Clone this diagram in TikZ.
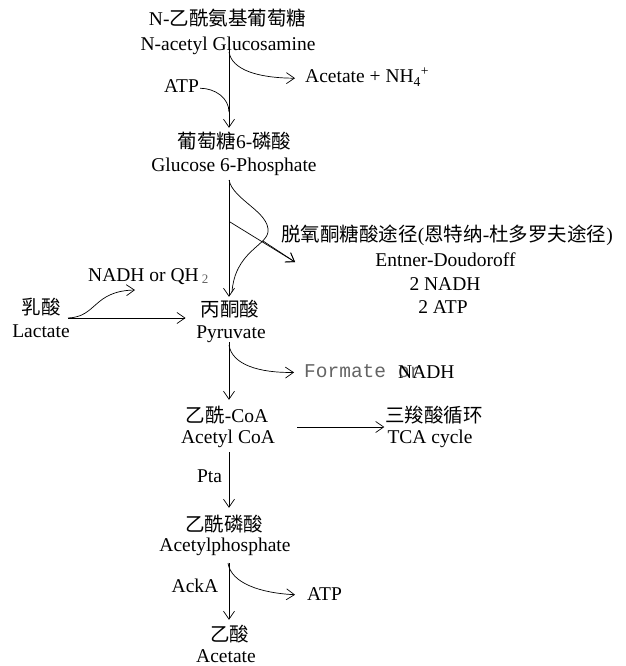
\documentclass[tikz,border=0pt]{standalone}
\usepackage{fontspec}
\setmainfont{Liberation Serif}
\newfontfamily\cjk{Noto Sans CJK SC}
\newfontfamily\monof{Liberation Mono}
\usetikzlibrary{arrows.meta}
\definecolor{fgray}{RGB}{100,100,100}
\begin{document}
\begin{tikzpicture}[x=1pt,y=-1pt,
  lbl/.style={inner sep=1pt, text height=14pt, text depth=4.5pt, anchor=base, font=\fontsize{19.5}{22}\selectfont},
  ln/.style={line width=0.7pt},
  arr/.style={line width=0.7pt, -{Straight Barb[length=8pt,width=11pt]}}]
\useasboundingbox (0,0) rectangle (625,666);
\coordinate (ax) at (229,0);
% nodes
\node[lbl] (nagcn) at (227.5,26) {N-{\cjk 乙酰氨基葡萄糖}};
\node[lbl] (nag) at (228,51) {N-acetyl Glucosamine};
\node[lbl, anchor=base west] (acnh) at (304,83) {Acetate + NH\textsubscript{4}\textsuperscript{+}};
\node[lbl] (atpa) at (181.5,93) {ATP};
\node[lbl] (gcn) at (234.5,148) {{\cjk 葡萄糖}6-{\cjk 磷酸}};
\node[lbl] (g6p) at (234,171) {Glucose 6-Phosphate};
\node[lbl] (edcn) at (447,241) {{\cjk 脱氧酮糖酸途径}({\cjk 恩特纳}-{\cjk 杜多罗夫途径})};
\node[lbl] (ed) at (445.5,266) {Entner-Doudoroff};
\node[lbl] (ednadh) at (445,290) {2 NADH};
\node[lbl] (edatp) at (443,313) {2 ATP};
\node[lbl, anchor=base west] (nadhq) at (87,281) {NADH or QH\,{\color{fgray}\fontsize{13}{14}\selectfont\raisebox{-2pt}{2}}};
\node[lbl] (laccn) at (41,314) {\cjk 乳酸};
\node[lbl] (lac) at (41,337) {Lactate};
\node[lbl] (pyrcn) at (230,316) {\cjk 丙酮酸};
\node[lbl] (pyr) at (231,338) {Pyruvate};
\node[lbl, anchor=base west, text=fgray, font=\monof\fontsize{19.5}{22}\selectfont] (form) at (303,377) {Formate or};
\node[lbl, anchor=base west] (nadh) at (397,378) {NADH};
\node[lbl] (acoacn) at (227,422) {{\cjk 乙酰}-CoA};
\node[lbl] (acoa) at (228,443) {Acetyl CoA};
\node[lbl] (tcacn) at (434,422) {\cjk 三羧酸循环};
\node[lbl] (tca) at (430,443) {TCA cycle};
\node[lbl] (pta) at (209.5,482) {Pta};
\node[lbl] (apcn) at (224,531) {\cjk 乙酰磷酸};
\node[lbl] (ap) at (225,551) {Acetylphosphate};
\node[lbl] (acka) at (195,592) {AckA};
\node[lbl, anchor=base west] (atpb) at (306,600) {ATP};
\node[lbl] (accn) at (229.5,641) {\cjk 乙酸};
\node[lbl] (ac) at (226,662) {Acetate};
% junction coordinates
\coordinate (j1) at (229,52);
\coordinate (j2) at (229,112);
\coordinate (g6pout) at (229,180);
\coordinate (dj) at (230,222);
\coordinate (bj) at (263,241);
\coordinate (edtip) at (295,262);
\coordinate (lj) at (68,318);
\coordinate (sq) at (135,290);
\coordinate (pj) at (229,345);
\coordinate (tj) at (297,427);
\coordinate (aj) at (228,563);
% main chain
\draw[arr, shorten <=-6.5pt, shorten >=5pt] (nag.south -| ax) -- (gcn.north -| ax);
\draw[arr, shorten <=3.5pt, shorten >=4pt] (g6p.south -| ax) -- (pyrcn.north -| ax);
\draw[arr, shorten <=-1.5pt, shorten >=7pt] (pyr.south -| ax) -- (acoacn.north -| ax);
\draw[arr, shorten <=3.5pt, shorten >=8pt] (acoa.south -| ax) -- (apcn.north -| ax);
\draw[arr, shorten <=6.5pt, shorten >=6pt] (ap.south -| ax) -- (accn.north -| ax);
% side branches
\draw[arr, shorten >=9pt] (j1) .. controls (232,70) and (258,78) .. (acnh.west);
\draw[ln] (atpa.east) .. controls +(15,0) and +(0,-14) .. (j2);
\draw[ln] (g6pout) .. controls (233,200) and (270,212) .. (268,232) .. controls (266,246) and (235,252) .. (232,292);
\draw[arr] (dj) -- (edtip);
\draw[arr] (bj) -- (edtip);
\draw[arr, shorten >=14pt] (lj) -- (lj -| pyrcn.west);
\draw[arr] (lj) .. controls (97,317) and (93,291) .. (sq);
\draw[arr, shorten >=9pt] (pj) .. controls (232,365) and (260,373) .. (form.west);
\draw[arr, shorten >=2pt] (tj) -- (tj -| tca.west);
\draw[arr, shorten >=11pt] (aj) .. controls (231,583) and (260,593) .. (atpb.west);
\end{tikzpicture}
\end{document}
